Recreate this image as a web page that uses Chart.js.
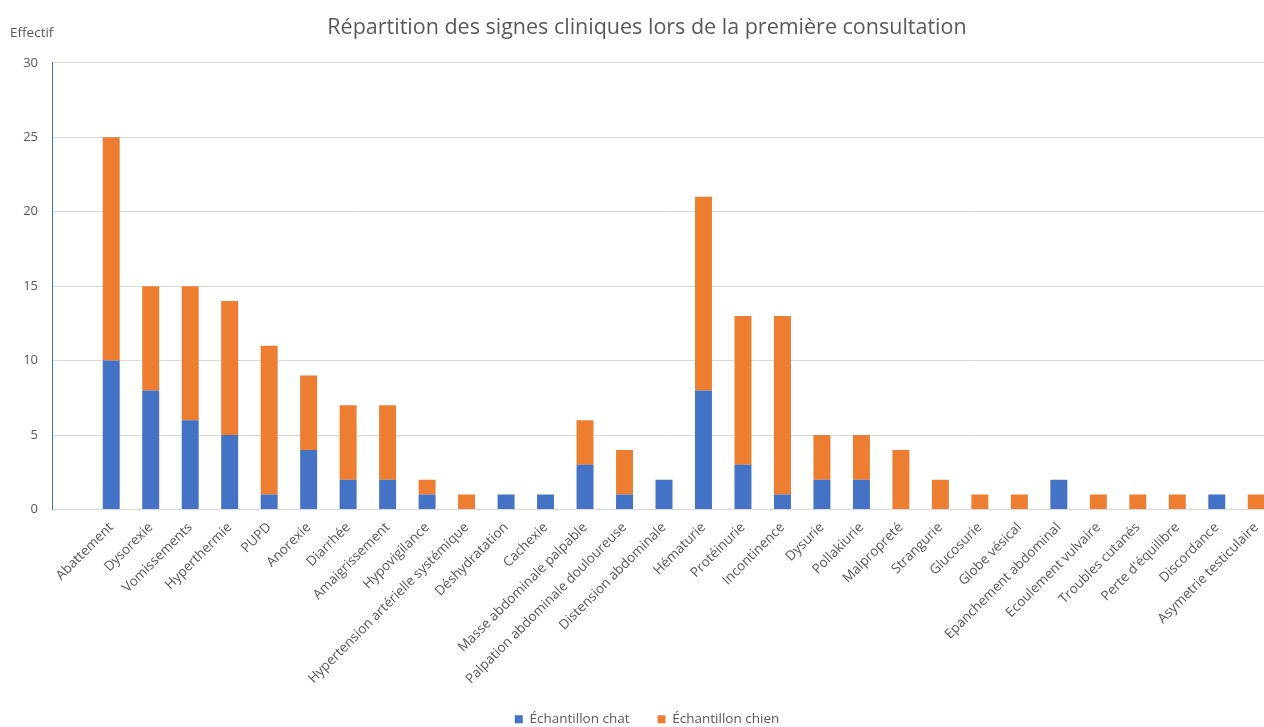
<!DOCTYPE html>
<html>
<head>
<meta charset="utf-8">
<script src="https://cdn.jsdelivr.net/npm/chart.js@4/dist/chart.umd.min.js"></script>
<style>
  body { margin: 0; overflow: hidden; background: #ffffff; }
  #wrap { position: relative; width: 1292px; height: 727px; }
  #ylab { position: absolute; left: 10px; top: 23px; font: 13.5px "Open Sans", sans-serif; color: #595959; }
</style>
</head>
<body>
<div id="wrap">
  <canvas id="chart"></canvas>
  <div id="ylab">Effectif</div>
</div>
<script>
// first category is empty, like the source sheet
const signes = [
    "",
    "Abattement", "Dysorexie", "Vomissements", "Hyperthermie", "PUPD",
    "Anorexie", "Diarrhée", "Amaigrissement", "Hypovigilance",
    "Hypertension artérielle systémique", "Déshydratation", "Cachexie",
    "Masse abdominale palpable", "Palpation abdominale douloureuse",
    "Distension abdominale", "Hématurie", "Protéinurie", "Incontinence",
    "Dysurie", "Pollakiurie", "Malpropreté", "Strangurie", "Glucosurie",
    "Globe vésical", "Epanchement abdominal", "Ecoulement vulvaire",
    "Troubles cutanés", "Perte d'équilibre", "Discordance",
    "Asymetrie testiculaire"
];

const chat = [
    null,
    10, 8, 6, 5, 1, 4, 2, 2, 1, 0,
    1, 1, 3, 1, 2, 8, 3, 1, 2, 2,
    0, 0, 0, 0, 2, 0, 0, 0, 1, 0
];

const chien = [
    null,
    15, 7, 9, 9, 10, 5, 5, 5, 1, 1,
    0, 0, 3, 3, 0, 13, 10, 12, 3, 3,
    4, 2, 1, 1, 0, 1, 1, 1, 0, 1
];

const yTicks = [0, 5, 10, 15, 20, 25, 30];

const grey = "#595959";

new Chart(document.getElementById("chart"), {

    type: "bar",

    data: {

        labels: signes,

        datasets: [
            {
                label: "Échantillon chat",
                data: chat,
                backgroundColor: "#4472c4",
                barPercentage: 0.43,
                categoryPercentage: 1
            },
            {
                label: "Échantillon chien",
                data: chien,
                backgroundColor: "#ed7d31",
                barPercentage: 0.43,
                categoryPercentage: 1
            }
        ]

    },

    options: {

        responsive: true,
        maintainAspectRatio: false,
        animation: false,

        layout: {
            padding: { left: 18, right: 16, top: 0, bottom: -9 }
        },

        plugins: {

            title: {
                display: true,
                text: "Répartition des signes cliniques lors de la première consultation",
                color: grey,
                font: { family: "Open Sans", size: 21.5, weight: "normal" },
                padding: { top: 15, bottom: 22 }
            },

            legend: {
                position: "bottom",
                labels: {
                    color: grey,
                    font: { family: "Open Sans", size: 13.5 },
                    boxWidth: 8,
                    boxHeight: 8,
                    padding: 28
                }
            },

            tooltip: { enabled: false }

        },

        scales: {

            x: {
                stacked: true,
                grid: { display: false },
                border: { color: "#d9d9d9" },
                ticks: {
                    color: grey,
                    font: { family: "Open Sans", size: 13.5 },
                    autoSkip: false,
                    minRotation: 45,
                    maxRotation: 45,
                    padding: 2
                },
                afterFit: scale => { scale.height = 175; }
            },

            y: {
                stacked: true,
                min: 0,
                max: 30,
                afterBuildTicks: scale => {
                    scale.ticks = yTicks.map(v => ({ value: v }));
                },
                grid: { color: "#d9d9d9", drawTicks: false },
                border: { color: "#4472c4" },
                ticks: {
                    color: grey,
                    font: { family: "Open Sans", size: 13 },
                    padding: 14
                },
                afterFit: scale => { scale.width = 34; }
            }

        }

    }

});
</script>
</body>
</html>
